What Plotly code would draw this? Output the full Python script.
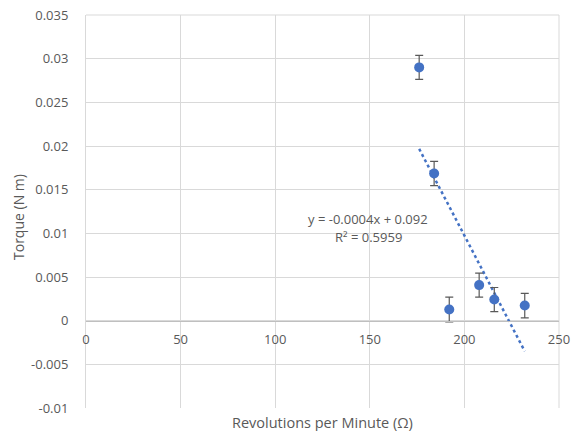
import numpy as np
import plotly.graph_objects as go

rpm = [176.1, 184.0, 192.0, 207.8, 215.8, 231.9]
torque = [0.0290, 0.01685, 0.00127, 0.00407, 0.00242, 0.00173]
torque_err = [0.00138, 0.00138, 0.00142, 0.00138, 0.00138, 0.00140]

x_ticks = [0, 50, 100, 150, 200, 250]
y_ticks = [-0.01, -0.005, 0, 0.005, 0.01, 0.015, 0.02, 0.025, 0.03, 0.035]
y_tick_labels = ["-0.01", "-0.005", "0", "0.005", "0.01", "0.015", "0.02", "0.025", "0.03", "0.035"]

eq_text = "y = -0.0004x + 0.092"
r2_text = "R² = 0.5959"

slope, intercept = np.polyfit(rpm, torque, 1)
x_fit = np.array([min(rpm), max(rpm)])
y_fit = slope * x_fit + intercept

TXT = "#595959"
GRID = "#d9d9d9"
FONT = "Open Sans"

W, H = 572, 431
PL, PR, PT, PB = 86, 559, 15, 408  # plot area in window pixels
PW, PH = PR - PL, PB - PT


def px(xp):
    return (xp - PL) / PW


def py(yp):
    return (PB - yp) / PH


fig = go.Figure()
fig.add_trace(go.Scatter(
    x=x_fit, y=y_fit, mode="lines",
    line=dict(color="#4472C4", width=2.5, dash="dot"),
    hoverinfo="skip", showlegend=False,
))
fig.add_trace(go.Scatter(
    x=rpm, y=torque, mode="markers",
    marker=dict(color="#4472C4", size=10),
    error_y=dict(type="data", array=torque_err, visible=True,
                 color="#595959", thickness=1.2, width=4),
    showlegend=False,
))

y0_pos = (0 - y_ticks[0]) / (y_ticks[-1] - y_ticks[0])

fig.update_layout(
    width=W, height=H,
    margin=dict(l=PL, r=W - PR, t=PT, b=H - PB, pad=0),
    paper_bgcolor="white", plot_bgcolor="white",
    font=dict(family=FONT, color=TXT, size=13),
    xaxis=dict(
        range=[0, 250], tickvals=x_ticks, ticktext=[str(v) for v in x_ticks],
        showgrid=True, gridcolor=GRID, gridwidth=1,
        zeroline=False, showline=True, linecolor="#bfbfbf", linewidth=1,
        anchor="free", position=y0_pos, automargin=False,
        ticks="", ticklabelstandoff=7, ticklabeloverflow="allow",
        tickfont=dict(family=FONT, color=TXT, size=13),
    ),
    yaxis=dict(
        range=[y_ticks[0], y_ticks[-1]], tickvals=y_ticks, ticktext=y_tick_labels,
        showgrid=True, gridcolor=GRID, gridwidth=1,
        zeroline=False, showline=True, linecolor=GRID, linewidth=1,
        ticks="", ticklabelstandoff=14, automargin=False, ticklabeloverflow="allow",
        tickfont=dict(family=FONT, color=TXT, size=13),
        domain=[0, 1],
    ),
    shapes=[
        dict(type="line", xref="paper", yref="paper", x0=0, x1=1, y0=1, y1=1,
             line=dict(color=GRID, width=1), layer="below"),
        dict(type="line", xref="paper", yref="paper", x0=1, x1=1, y0=0, y1=1,
             line=dict(color=GRID, width=1), layer="below"),
    ],
    annotations=[
        dict(text="Revolutions per Minute (Ω)", xref="paper", yref="paper",
             x=px(322), y=py(422), xanchor="center", yanchor="middle",
             showarrow=False, font=dict(family=FONT, color=TXT, size=14.5)),
        dict(text="Torque (N m)", xref="paper", yref="paper",
             x=px(18), y=py(217), xanchor="center", yanchor="middle",
             textangle=-90, showarrow=False, font=dict(family=FONT, color=TXT, size=14)),
        dict(text=eq_text, xref="paper", yref="paper",
             x=px(368), y=py(219), xanchor="center", yanchor="middle",
             showarrow=False, font=dict(family=FONT, color=TXT, size=13)),
        dict(text=r2_text, xref="paper", yref="paper",
             x=px(368), y=py(237), xanchor="center", yanchor="middle",
             showarrow=False, font=dict(family=FONT, color=TXT, size=13)),
    ],
)

fig.write_html(
    "out.html",
    config={"displayModeBar": False},
    post_script="document.body.style.margin='0';document.body.style.overflow='hidden';",
)
